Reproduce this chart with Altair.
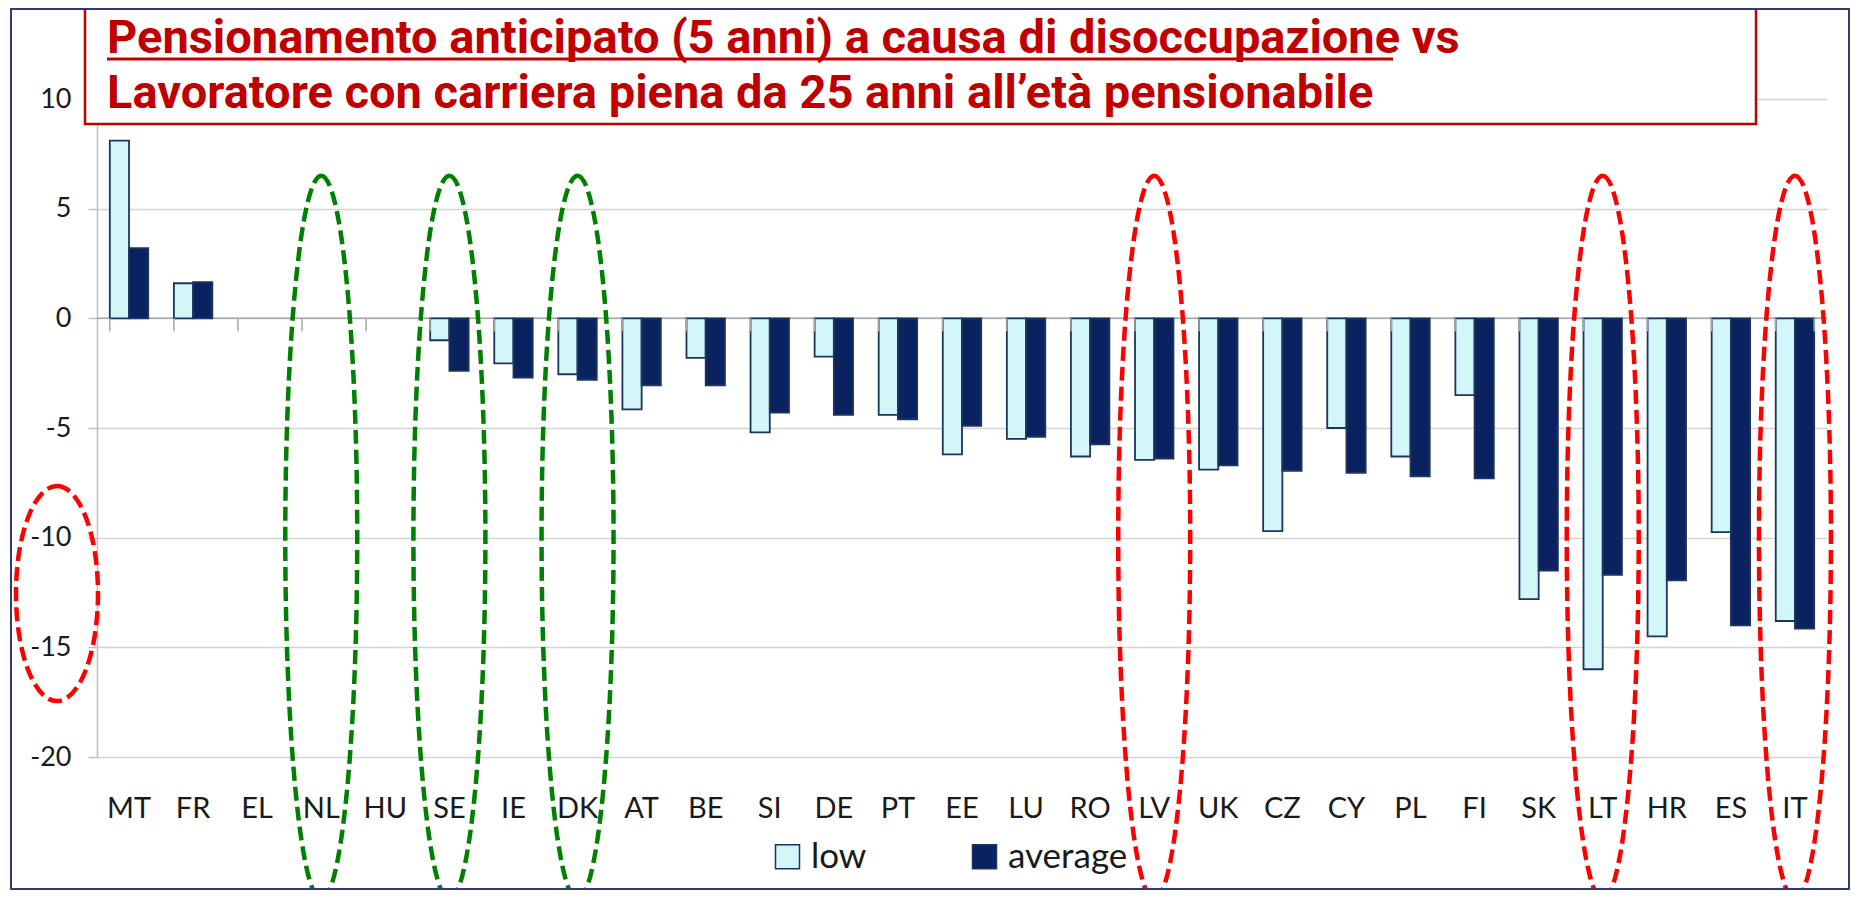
import altair as alt
import pandas as pd

# ---------------- data ----------------
countries = ["MT", "FR", "EL", "NL", "HU", "SE", "IE", "DK", "AT", "BE", "SI", "DE", "PT", "EE",
             "LU", "RO", "LV", "UK", "CZ", "CY", "PL", "FI", "SK", "LT", "HR", "ES", "IT"]
low_values = [8.1, 1.6, None, None, None, -1.0, -2.05, -2.55, -4.15, -1.8, -5.2, -1.75, -4.4, -6.2,
              -5.5, -6.3, -6.45, -6.9, -9.7, -5.0, -6.3, -3.5, -12.8, -16.0, -14.5, -9.75, -13.8]
avg_values = [3.2, 1.65, None, None, None, -2.4, -2.7, -2.8, -3.05, -3.05, -4.3, -4.4, -4.6, -4.9,
              -5.4, -5.75, -6.4, -6.7, -6.95, -7.05, -7.2, -7.3, -11.5, -11.7, -11.95, -14.0, -14.15]
series_names = ["low", "average"]
y_ticks = [-20, -15, -10, -5, 0, 5, 10]

title_line1 = "Pensionamento anticipato (5 anni) a causa di disoccupazione vs"
title_line2 = "Lavoratore con carriera piena da 25 anni all\u2019et\u00e0 pensionabile"

green_marked = ["NL", "SE", "DK"]
red_marked = ["LV", "LT", "IT"]
ellipse_center_value = -10.0
axis_ellipse_value = -12.55

# ---------------- styles ----------------
LOW_FILL = "#D3F6F9"
AVG_FILL = "#0A2360"
BAR_STROKE = "#1D3461"
TITLE_RED = "#C00000"
FONT = "Lato"
TITLE_FONT = "Roboto"
TITLE_SIZE = 47

W, H = 1730, 658

rows = []
for c, lo, av in zip(countries, low_values, avg_values):
    rows.append({"country": c, "series": "low", "value": lo})
    rows.append({"country": c, "series": "average", "value": av})
bars_df = pd.DataFrame(rows)

x_scale = alt.Scale(type="band", domain=countries, paddingInner=0.4, paddingOuter=0.2)
y_scale = alt.Scale(domain=[-20, 10], nice=False, zero=False)

one = pd.DataFrame({"k": [0]})

# zero (category) axis line
zero_line = alt.Chart(pd.DataFrame({"value": [0]})).mark_rule(
    color="#A6A6A6", strokeWidth=1.5
).encode(y=alt.Y("value:Q", scale=y_scale))

bars = alt.Chart(bars_df).mark_bar(stroke=BAR_STROKE, strokeWidth=1.8).encode(
    x=alt.X("country:N", scale=x_scale,
            axis=alt.Axis(title=None, domain=False, ticks=False, tickSize=0, labelAngle=0,
                          labelFontSize=29, labelPadding=37, labelColor="#1a1a1a")),
    xOffset=alt.XOffset("series:N", scale=alt.Scale(domain=series_names, paddingInner=0, paddingOuter=0)),
    y=alt.Y("value:Q", scale=y_scale,
            axis=alt.Axis(title=None, values=y_ticks, grid=True, gridColor="#D3D3D3", gridWidth=1.5,
                          domainColor="#BFBFBF", domainWidth=1.5, tickColor="#BFBFBF", tickSize=9,
                          tickWidth=1.5, labelFontSize=27, labelPadding=17, labelColor="#1a1a1a",
                          labelExpr="datum.value < 0 ? '-' + (-datum.value) : '' + datum.value")),
    color=alt.Color("series:N", scale=alt.Scale(domain=series_names, range=[LOW_FILL, AVG_FILL]),
                    legend=alt.Legend(title=None, orient="none", legendX=673, legendY=740,
                                      direction="horizontal", symbolType="square", symbolSize=576,
                                      symbolStrokeColor=BAR_STROKE, symbolStrokeWidth=1.5,
                                      symbolOpacity=1, labelFontSize=35, labelColor="#1a1a1a",
                                      labelOffset=6, columnPadding=100, padding=0)),
)

# category boundary ticks hanging below the zero line
bound_ticks = alt.Chart(pd.DataFrame({"country": countries})).mark_rule(
    color="#A6A6A6", strokeWidth=1.5, y2Offset=13
).encode(
    x=alt.X("country:N", scale=x_scale, bandPosition=0),
    y=alt.Y(datum=0, scale=y_scale),
    y2=alt.Y2(datum=0),
)
last_tick = alt.Chart(pd.DataFrame({"country": [countries[-1]]})).mark_rule(
    color="#A6A6A6", strokeWidth=1.5, y2Offset=13
).encode(
    x=alt.X("country:N", scale=x_scale, bandPosition=1),
    y=alt.Y(datum=0, scale=y_scale),
    y2=alt.Y2(datum=0),
)

# tall dashed ellipses (annotation)
EH = 724.0
EW = 72.0
rx = EW / EH
k = 0.5523
tall_path = (f"M 0,-1 C {k*rx:.4f},-1 {rx:.4f},-{k} {rx:.4f},0 "
             f"C {rx:.4f},{k} {k*rx:.4f},1 0,1 "
             f"C -{k*rx:.4f},1 -{rx:.4f},{k} -{rx:.4f},0 "
             f"C -{rx:.4f},-{k} -{k*rx:.4f},-1 0,-1 Z")

green_df = pd.DataFrame({"country": green_marked, "yc": [ellipse_center_value] * len(green_marked)})
red_df = pd.DataFrame({"country": red_marked, "yc": [ellipse_center_value] * len(red_marked)})

DASH = [14, 6]
SW = 4.5

green_ell = alt.Chart(green_df).mark_point(
    shape=tall_path, size=EH * EH, filled=False, color="#008000", strokeWidth=SW,
    strokeDash=DASH, opacity=1
).encode(x=alt.X("country:N", scale=x_scale), y=alt.Y("yc:Q", scale=y_scale))

red_ell = alt.Chart(red_df).mark_point(
    shape=tall_path, size=EH * EH, filled=False, color="#FF0000", strokeWidth=SW,
    strokeDash=DASH, opacity=1
).encode(x=alt.X("country:N", scale=x_scale), y=alt.Y("yc:Q", scale=y_scale))

AH = 215.0
AW = 82.0
arx = AW / AH
axis_path = (f"M 0,-1 C {k*arx:.4f},-1 {arx:.4f},-{k} {arx:.4f},0 "
             f"C {arx:.4f},{k} {k*arx:.4f},1 0,1 "
             f"C -{k*arx:.4f},1 -{arx:.4f},{k} -{arx:.4f},0 "
             f"C -{arx:.4f},-{k} -{k*arx:.4f},-1 0,-1 Z")
axis_ell = alt.Chart(pd.DataFrame({"yc": [axis_ellipse_value]})).mark_point(
    shape=axis_path, size=AH * AH, filled=False, color="#FF0000", strokeWidth=SW,
    strokeDash=DASH, opacity=1
).encode(x=alt.value(-40), y=alt.Y("yc:Q", scale=y_scale))

# title box
title_box = alt.Chart(one).mark_rect(fill="white", stroke=TITLE_RED, strokeWidth=2.5).encode(
    x=alt.value(-12), x2=alt.value(1659), y=alt.value(-120), y2=alt.value(25)
)
t1 = alt.Chart(one).mark_text(
    text=title_line1, align="left", baseline="alphabetic", font=TITLE_FONT, fontWeight="bold",
    fontSize=TITLE_SIZE, color=TITLE_RED
).encode(x=alt.value(10), y=alt.value(-46))
t2 = alt.Chart(one).mark_text(
    text=title_line2, align="left", baseline="alphabetic", font=TITLE_FONT, fontWeight="bold",
    fontSize=TITLE_SIZE, color=TITLE_RED
).encode(x=alt.value(10), y=alt.value(9))
underline = alt.Chart(one).mark_rule(color=TITLE_RED, strokeWidth=3).encode(
    x=alt.value(10), x2=alt.value(1296), y=alt.value(-40)
)

frame = alt.Chart(one).mark_rect(fillOpacity=0, stroke="#2C3E6B", strokeWidth=2).encode(
    x=alt.value(-86), x2=alt.value(1752), y=alt.value(-90), y2=alt.value(790)
)

chart = alt.layer(
    zero_line, bars, bound_ticks, last_tick, green_ell, red_ell, axis_ell,
    title_box, t1, t2, underline, frame
).properties(
    width=W, height=H,
    autosize=alt.AutoSizeParams(type="none"),
    padding={"left": 89, "top": 91, "right": 23, "bottom": 133},
).configure(font=FONT, background="white").configure_view(strokeWidth=0)

chart.save("out.html", embed_options={"renderer": "svg", "actions": False})
